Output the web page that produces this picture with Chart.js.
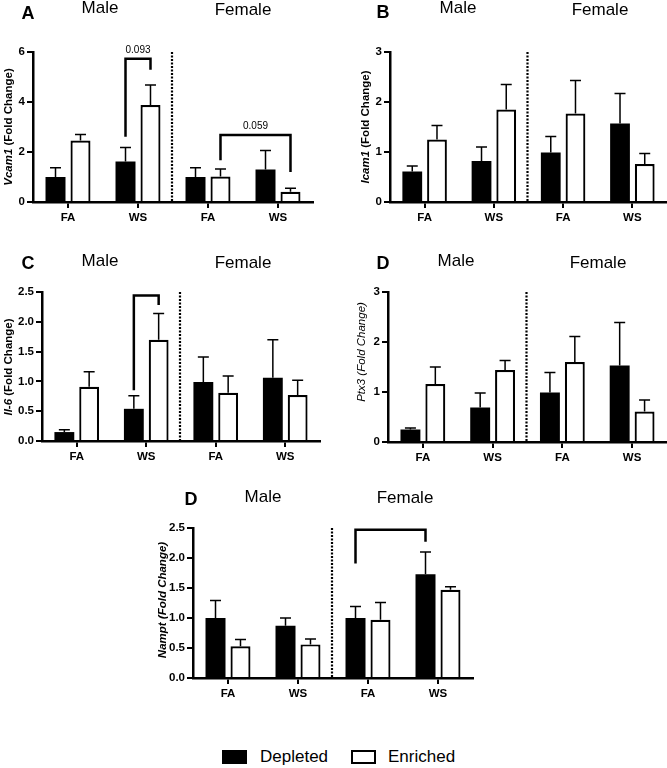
<!DOCTYPE html>
<html><head><meta charset="utf-8">
<script src="https://cdn.jsdelivr.net/npm/chart.js@4"></script>
<style>
html,body{margin:0;padding:0;background:#fff;}
#page{position:relative;width:667px;height:768px;overflow:hidden;font-family:'Liberation Sans',Arial,sans-serif;background:#fff;}
canvas.pc{position:absolute;}
.lgbox{position:absolute;box-sizing:border-box;width:25px;height:14px;}
.lgtxt{position:absolute;font-size:17px;line-height:17px;color:#000;white-space:nowrap;}
</style></head><body>
<div id="page">
<canvas id="cA" class="pc"></canvas>
<canvas id="cB" class="pc"></canvas>
<canvas id="cC" class="pc"></canvas>
<canvas id="cD" class="pc"></canvas>
<canvas id="cE" class="pc"></canvas>
<div class="lgbox" style="left:222px;top:750px;background:#000;"></div>
<div class="lgtxt" style="left:260px;top:748px;">Depleted</div>
<div class="lgbox" style="left:351px;top:750px;background:#fff;border:2.5px solid #000;"></div>
<div class="lgtxt" style="left:388px;top:748px;">Enriched</div>
</div>
<script>
const FONT = "'Liberation Sans', Arial, sans-serif";

// ---- data ----
const categories = ['FA', 'WS', 'FA', 'WS'];
const sexes = ['Male', 'Female'];
const seriesNames = ['Depleted', 'Enriched'];

const vcam1Depleted    = [1.00, 1.62, 1.00, 1.30];
const vcam1DepletedSem = [0.37, 0.56, 0.37, 0.76];
const vcam1Enriched    = [2.46, 3.88, 1.02, 0.41];
const vcam1EnrichedSem = [0.24, 0.80, 0.30, 0.14];
const vcam1Ticks = [0, 2, 4, 6];

const icam1Depleted    = [0.61, 0.82, 0.99, 1.57];
const icam1DepletedSem = [0.11, 0.28, 0.32, 0.60];
const icam1Enriched    = [1.25, 1.85, 1.77, 0.76];
const icam1EnrichedSem = [0.28, 0.50, 0.66, 0.21];
const icam1Ticks = [0, 1, 2, 3];

const il6Depleted    = [0.15, 0.54, 0.99, 1.06];
const il6DepletedSem = [0.04, 0.22, 0.42, 0.64];
const il6Enriched    = [0.91, 1.70, 0.81, 0.77];
const il6EnrichedSem = [0.25, 0.44, 0.28, 0.25];
const il6Ticks = [0, 0.5, 1.0, 1.5, 2.0, 2.5];

const ptx3Depleted    = [0.25, 0.69, 0.99, 1.53];
const ptx3DepletedSem = [0.03, 0.29, 0.40, 0.86];
const ptx3Enriched    = [1.16, 1.44, 1.60, 0.61];
const ptx3EnrichedSem = [0.34, 0.19, 0.51, 0.23];
const ptx3Ticks = [0, 1, 2, 3];

const namptDepleted    = [1.00, 0.87, 1.00, 1.73];
const namptDepletedSem = [0.29, 0.13, 0.19, 0.37];
const namptEnriched    = [0.53, 0.56, 0.97, 1.47];
const namptEnrichedSem = [0.11, 0.09, 0.29, 0.05];
const namptTicks = [0, 0.5, 1.0, 1.5, 2.0, 2.5];

// brackets: [category, series] ends; leg values in data units
const vcam1Brackets = [
  {from: [1, 0], to: [1, 1], leftBottom: 2.61, top: 5.73, rightBottom: 5.29, label: '0.093'},
  {from: [2, 1], to: [3, 1], leftBottom: 1.67, top: 2.68, rightBottom: 1.20, label: '0.059'}
];
const icam1Brackets = [];
const il6Brackets = [
  {from: [1, 0], to: [1, 1], leftBottom: 0.85, top: 2.44, rightBottom: 2.28, label: ''}
];
const ptx3Brackets = [];
const namptBrackets = [
  {from: [2, 0], to: [3, 0], leftBottom: 1.91, top: 2.47, rightBottom: 2.27, label: ''}
];

// ---- layout (positions only) ----
const panels = [
  {id: 'cA', letter: 'A', title: [['Vcam1', true], [' (Fold Change)', false]], titleWeight: 'bold',
   dep: vcam1Depleted, depSem: vcam1DepletedSem, enr: vcam1Enriched, enrSem: vcam1EnrichedSem,
   ticks: vcam1Ticks, dec: 0, brackets: vcam1Brackets,
   box: {x: 0, y: 0, w: 333, h: 228}, area: {l: 33, t: 52, r: 313, b: 202},
   letterPos: [28, 19], malePos: [100, 13], femalePos: [243, 15], titlePos: [9, 127]},
  {id: 'cB', letter: 'B', title: [['Icam1', true], [' (Fold Change)', false]], titleWeight: 'bold',
   dep: icam1Depleted, depSem: icam1DepletedSem, enr: icam1Enriched, enrSem: icam1EnrichedSem,
   ticks: icam1Ticks, dec: 0, brackets: icam1Brackets,
   box: {x: 333, y: 0, w: 334, h: 228}, area: {l: 57, t: 52, r: 334, b: 202},
   letterPos: [50, 18], malePos: [125, 13], femalePos: [267, 15], titlePos: [33, 127]},
  {id: 'cC', letter: 'C', title: [['Il-6', true], [' (Fold Change)', false]], titleWeight: 'bold',
   dep: il6Depleted, depSem: il6DepletedSem, enr: il6Enriched, enrSem: il6EnrichedSem,
   ticks: il6Ticks, dec: 1, brackets: il6Brackets,
   box: {x: 0, y: 228, w: 333, h: 238}, area: {l: 42, t: 64, r: 320, b: 213},
   letterPos: [28, 41], malePos: [100, 38], femalePos: [243, 40], titlePos: [9, 139]},
  {id: 'cD', letter: 'D', title: [['Ptx3', true], [' (Fold Change)', true]], titleWeight: 'normal',
   dep: ptx3Depleted, depSem: ptx3DepletedSem, enr: ptx3Enriched, enrSem: ptx3EnrichedSem,
   ticks: ptx3Ticks, dec: 0, brackets: ptx3Brackets,
   box: {x: 333, y: 228, w: 334, h: 238}, area: {l: 55, t: 64, r: 334, b: 214},
   letterPos: [50, 41], malePos: [123, 38], femalePos: [265, 40], titlePos: [29, 124]},
  {id: 'cE', letter: 'D', title: [['Nampt', true], [' (Fold Change)', true]], titleWeight: 'bold',
   dep: namptDepleted, depSem: namptDepletedSem, enr: namptEnriched, enrSem: namptEnrichedSem,
   ticks: namptTicks, dec: 1, brackets: namptBrackets,
   box: {x: 150, y: 466, w: 350, h: 240}, area: {l: 43, t: 62, r: 323, b: 212},
   letterPos: [41, 39], malePos: [113, 36], femalePos: [255, 37], titlePos: [13, 134]}
];

function makeDecor(p) {
  return {
    id: 'decor_' + p.id,
    afterDatasetsDraw(chart) {
      const ctx = chart.ctx, xs = chart.scales.x, ys = chart.scales.y, ca = chart.chartArea;
      ctx.save();
      ctx.strokeStyle = '#000';
      // error bars (upper only)
      const sets = [[p.dep, p.depSem], [p.enr, p.enrSem]];
      ctx.lineWidth = 1.5;
      sets.forEach((s, k) => {
        const meta = chart.getDatasetMeta(k);
        s[0].forEach((m, i) => {
          const x = meta.data[i].x;
          const y0 = ys.getPixelForValue(m);
          const y1 = ys.getPixelForValue(m + s[1][i]);
          ctx.beginPath();
          ctx.moveTo(x, y0); ctx.lineTo(x, y1);
          ctx.moveTo(x - 5.5, y1); ctx.lineTo(x + 5.5, y1);
          ctx.stroke();
        });
      });
      // dotted divider
      const xd = (xs.getPixelForValue(1) + xs.getPixelForValue(2)) / 2 - 1;
      ctx.setLineDash([2, 1.5]);
      ctx.lineWidth = 2.2;
      ctx.beginPath(); ctx.moveTo(xd, ca.top); ctx.lineTo(xd, ca.bottom); ctx.stroke();
      ctx.setLineDash([]);
      // brackets
      ctx.lineWidth = 2.5;
      p.brackets.forEach(b => {
        const xl = chart.getDatasetMeta(b.from[1]).data[b.from[0]].x;
        const xr = chart.getDatasetMeta(b.to[1]).data[b.to[0]].x;
        const yt = ys.getPixelForValue(b.top);
        ctx.beginPath();
        ctx.moveTo(xl, ys.getPixelForValue(b.leftBottom));
        ctx.lineTo(xl, yt); ctx.lineTo(xr, yt);
        ctx.lineTo(xr, ys.getPixelForValue(b.rightBottom));
        ctx.stroke();
        if (b.label) {
          ctx.fillStyle = '#000';
          ctx.font = '10px ' + FONT;
          ctx.textAlign = 'center'; ctx.textBaseline = 'alphabetic';
          ctx.fillText(b.label, (xl + xr) / 2, yt - 6);
        }
      });
      ctx.restore();
    },
    afterDraw(chart) {
      const ctx = chart.ctx;
      ctx.save();
      ctx.fillStyle = '#000';
      ctx.textAlign = 'center'; ctx.textBaseline = 'alphabetic';
      ctx.font = 'bold 18px ' + FONT;
      ctx.fillText(p.letter, p.letterPos[0], p.letterPos[1]);
      ctx.font = '17px ' + FONT;
      ctx.fillText(sexes[0], p.malePos[0], p.malePos[1]);
      ctx.fillText(sexes[1], p.femalePos[0], p.femalePos[1]);
      // rotated y title with mixed italics
      ctx.translate(p.titlePos[0], p.titlePos[1]);
      ctx.rotate(-Math.PI / 2);
      ctx.textBaseline = 'middle'; ctx.textAlign = 'left';
      const fonts = p.title.map(t => (t[1] ? 'italic ' : '') + p.titleWeight + ' 11.5px ' + FONT);
      let total = 0;
      const widths = p.title.map((t, i) => { ctx.font = fonts[i]; const w = ctx.measureText(t[0]).width; total += w; return w; });
      let x = -total / 2;
      p.title.forEach((t, i) => { ctx.font = fonts[i]; ctx.fillText(t[0], x, 0); x += widths[i]; });
      ctx.restore();
    }
  };
}

panels.forEach(p => {
  const cv = document.getElementById(p.id);
  cv.width = p.box.w; cv.height = p.box.h;
  cv.style.left = p.box.x + 'px'; cv.style.top = p.box.y + 'px';
  cv.style.width = p.box.w + 'px'; cv.style.height = p.box.h + 'px';
  const tickFont = {family: FONT, size: 11.5, weight: 'bold'};
  new Chart(cv.getContext('2d'), {
    type: 'bar',
    data: {
      labels: categories,
      datasets: [
        {label: seriesNames[0], data: p.dep, backgroundColor: '#000', borderColor: '#000', borderWidth: 0,
         categoryPercentage: 0.714, barPercentage: 0.8},
        {label: seriesNames[1], data: p.enr, backgroundColor: '#fff', borderColor: '#000', borderWidth: 2.2,
         categoryPercentage: 0.714, barPercentage: 0.8}
      ]
    },
    options: {
      responsive: false, animation: false, devicePixelRatio: 1,
      layout: {padding: {left: 0, top: p.area.t, right: p.box.w - p.area.r, bottom: 0}},
      plugins: {legend: {display: false}, tooltip: {enabled: false}, title: {display: false}},
      scales: {
        x: {
          type: 'category', offset: true,
          grid: {display: true, offset: false, drawOnChartArea: false, drawTicks: true, tickLength: 6, color: '#000', lineWidth: 2},
          border: {display: true, color: '#000', width: 2.5},
          ticks: {color: '#000', font: tickFont, padding: 3, maxRotation: 0, autoSkip: false},
          afterFit(s) { s.height = p.box.h - p.area.b; }
        },
        y: {
          min: p.ticks[0], max: p.ticks[p.ticks.length - 1],
          afterBuildTicks(s) { s.ticks = p.ticks.map(v => ({value: v})); },
          grid: {display: true, drawOnChartArea: false, drawTicks: true, tickLength: 6, color: '#000', lineWidth: 2},
          border: {display: true, color: '#000', width: 2.5},
          ticks: {color: '#000', font: tickFont, padding: 2, callback: v => Number(v).toFixed(p.dec)},
          afterFit(s) { s.width = p.area.l; }
        }
      }
    },
    plugins: [makeDecor(p)]
  });
});
</script>
</body></html>
